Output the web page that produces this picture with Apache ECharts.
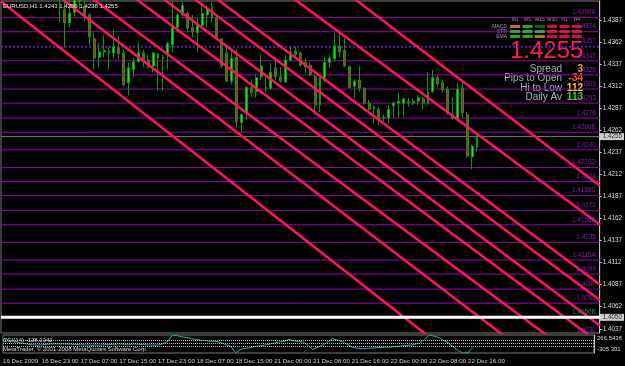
<!DOCTYPE html>
<html><head><meta charset="utf-8">
<script src="https://cdn.jsdelivr.net/npm/echarts@6/dist/echarts.min.js"></script>
<style>html,body{margin:0;padding:0;background:#000;}#c{width:625px;height:366px;}</style>
</head><body><div id="c"></div>
<script>
const symbol = 'EURUSD';
const timeframe = 'H1';
const firstBar = 12;
const opens  = [1.4415,1.4399,1.4384,1.4396,1.4420,1.4403,1.4393,1.4366,1.4345,1.4351,1.4352,1.4350,1.4356,1.4350,1.4316,1.4331,1.4340,1.4350,1.4342,1.4335,1.4349,1.4343,1.4348,1.4359,1.4379,1.4393,1.4395,1.4379,1.4373,1.4381,1.4393,1.4402,1.4390,1.4366,1.4350,1.4318,1.4345,1.4271,1.4282,1.4311,1.4306,1.4323,1.4310,1.4310,1.4333,1.4323,1.4317,1.4342,1.4352,1.4350,1.4339,1.4336,1.4323,1.4291,1.4319,1.4339,1.4343,1.4358,1.4353,1.4334,1.4312,1.4319,1.4310,1.4293,1.4287,1.4286,1.4276,1.4276,1.4290,1.4293,1.4293,1.4295,1.4293,1.4295,1.4298,1.4293,1.4306,1.4322,1.4316,1.4309,1.4280,1.4274,1.4310,1.4280,1.4232,1.4243];
const highs  = [1.4430,1.4412,1.4412,1.4418,1.4425,1.4410,1.4395,1.4373,1.4361,1.4370,1.4357,1.4377,1.4369,1.4354,1.4339,1.4345,1.4361,1.4353,1.4348,1.4351,1.4350,1.4348,1.4362,1.4408,1.4395,1.4407,1.4397,1.4393,1.4390,1.4407,1.4404,1.4407,1.4391,1.4367,1.4356,1.4353,1.4354,1.4282,1.4312,1.4319,1.4325,1.4348,1.4323,1.4339,1.4345,1.4334,1.4348,1.4357,1.4357,1.4351,1.4344,1.4339,1.4325,1.4325,1.4345,1.4348,1.4373,1.4373,1.4367,1.4336,1.4320,1.4335,1.4311,1.4297,1.4291,1.4289,1.4280,1.4291,1.4295,1.4305,1.4299,1.4299,1.4298,1.4302,1.4300,1.4328,1.4331,1.4325,1.4319,1.4312,1.4300,1.4316,1.4316,1.4283,1.4246,1.4259];
const lows   = [1.4385,1.4356,1.4379,1.4391,1.4400,1.4387,1.4359,1.4331,1.4334,1.4345,1.4331,1.4344,1.4342,1.4312,1.4302,1.4322,1.4339,1.4334,1.4333,1.4328,1.4307,1.4307,1.4331,1.4351,1.4373,1.4391,1.4373,1.4368,1.4351,1.4378,1.4379,1.4385,1.4365,1.4333,1.4317,1.4314,1.4265,1.4260,1.4274,1.4300,1.4299,1.4319,1.4305,1.4308,1.4319,1.4316,1.4316,1.4340,1.4344,1.4334,1.4327,1.4323,1.4280,1.4283,1.4317,1.4333,1.4340,1.4345,1.4334,1.4310,1.4299,1.4306,1.4291,1.4283,1.4270,1.4268,1.4272,1.4270,1.4277,1.4277,1.4277,1.4289,1.4291,1.4291,1.4286,1.4291,1.4305,1.4311,1.4305,1.4280,1.4274,1.4272,1.4277,1.4231,1.4218,1.4238];
const closes = [1.4425,1.4384,1.4395,1.4412,1.4408,1.4393,1.4368,1.4344,1.4351,1.4353,1.4350,1.4357,1.4349,1.4314,1.4333,1.4340,1.4350,1.4340,1.4334,1.4350,1.4344,1.4345,1.4361,1.4379,1.4393,1.4404,1.4378,1.4374,1.4382,1.4395,1.4401,1.4390,1.4366,1.4335,1.4318,1.4344,1.4272,1.4280,1.4311,1.4305,1.4322,1.4335,1.4311,1.4328,1.4323,1.4318,1.4342,1.4351,1.4348,1.4336,1.4334,1.4325,1.4291,1.4322,1.4339,1.4344,1.4358,1.4351,1.4335,1.4311,1.4318,1.4310,1.4293,1.4286,1.4289,1.4276,1.4277,1.4286,1.4293,1.4295,1.4298,1.4293,1.4295,1.4299,1.4293,1.4305,1.4322,1.4315,1.4308,1.4282,1.4276,1.4309,1.4282,1.4233,1.4244,1.4255];
const barCount = 123;
const tickBars = [0,8,16,24,32,40,48,56,64,72,80,88,96];
const tickLabels = ['16 Dec 2009','16 Dec 23:00','17 Dec 07:00','17 Dec 15:00','17 Dec 23:00','18 Dec 07:00','18 Dec 15:00','21 Dec 00:00','21 Dec 08:00','21 Dec 16:00','22 Dec 00:00','22 Dec 08:00','22 Dec 16:00'];
const priceTicks = [1.4037,1.4062,1.4087,1.4112,1.4137,1.4162,1.4187,1.4212,1.4237,1.4262,1.4287,1.4312,1.4337,1.4362,1.4387];
const levelPrices = [1.4390,1.4374,1.4357,1.4341,1.4325,1.4309,1.4293,1.4276,1.4260,1.4240,1.4220,1.4204,1.4188,1.4171,1.4155,1.4135,1.4115,1.4099,1.4082,1.4066,1.4050,1.4030];
const levelLabels = ['1.4390A','1.4374','1.4357','1.4341','1.4325','1.4309','1.4293','1.4276','1.4260B','1.4240','1.4220D','1.4204','1.4188C','1.4171','1.4155A','1.4135','1.4115A','1.4099','1.4082','1.4066','1.4050B','1.4030'];
const dottedLevel = 1.4357;
const stopLevel = 1.4050;
const bidPrice = 1.4255;
// trend lines: price at the first and at the last slot of the time axis
const trendStart = [1.440835,1.446398,1.448849,1.452479,1.454918,1.457391,1.459365,1.465672,1.471696];
const trendEnd   = [1.387612,1.394623,1.398503,1.402065,1.404084,1.406977,1.408735,1.415530,1.419920];
const cci = [124,110,80,40,6,-20,-45,-55,-45,-30,-19,-15,-18,-19,-25,-35,-45,-50,-55,-55,-55,-45,-35,-25,-19,-25,-30,-19,-30,-40,-50,-55,-55,-10,63,266,240,210,184,150,124,100,85,70,63,20,-40,-90,-294,-198,-160,-137,-100,-75,-55,-20,10,40,63,124,80,63,40,-60,-198,-120,-55,40,148,110,63,-20,-116,-150,-173,-160,-150,-137,-130,-120,-116,-100,-85,-70,-55,-25,6,120,266,230,184,90,6,-116,-233,-305,-300,-128.2342];
const cciTicks = [266.5436, 0, -305.301];
const cciTickText = ['266.5436','0.00','-305.301'];
const cciLevels = [100, 0, -100];
const mtfFrames = ['M1','M5','M15','M30','H1','H4'];
const mtfRows = ['MACD','STR','EMA'];
const mtfStates = [
  ['weakUp','up','strongUp','down','down','down'],
  ['up','up','up','down','down','down'],
  ['up','up','flat','down','down','down']
];
const infoLabels = ['Spread','Pips to Open','Hi to Low','Daily Av'];
const infoValues = [3,-34,112,113];
const copyright = 'MetaTrader, \u00a9 2001-2008 MetaQuotes Software Corp.';

// ---------------- rendering ----------------
const FONT = 'Liberation Sans';
const yMin = 1.403222, yMax = 1.440885;
const cats = Array.from({length: barCount}, (_, i) => String(i));
const last = closes.length - 1;
const f4 = v => v.toFixed(4);
const inRange = p => p > yMin && p < yMax;
const PURPLE = '#9a00b4';
const PINK = '#ff145f';
const stateColor = {weakUp:'#ff7a5a', up:'#33cc33', strongUp:'#0a7a1a', flat:'#c8a400', down:'#ff145f'};
const infoColors = ['#e8b418','#ff5a1e','#ffd21e','#3cd23c'];

const candleData = opens.map((o, k) => [firstBar + k, o, closes[k], lows[k], highs[k]]);

const hLine = (p, style, z) => ({
  type:'line', xAxisIndex:0, yAxisIndex:0, silent:true, symbol:'none', clip:true, z:z, animation:false,
  lineStyle:style, data:[[0, p], [barCount - 1, p]]
});
const levelSeries = levelPrices.filter(inRange).map(p => hLine(p,
  p === stopLevel ? {color:'#ffffff', width:3}
  : p === dottedLevel ? {color:'#5a1eb0', width:2, type:'dotted'}
  : {color:PURPLE, width:1}, p === stopLevel ? 5 : 1));
levelSeries.push(hLine(bidPrice, {color:'#7a7a7a', width:1}, 1));

const trendSeries = trendStart.map((p0, k) => ({
  type:'line', xAxisIndex:0, yAxisIndex:0, silent:true, symbol:'none', clip:true, z:4,
  lineStyle:{color:PINK, width:2.5}, animation:false,
  data:[[0, p0], [barCount - 1, trendEnd[k]]]
}));

const option = {
  animation:false,
  backgroundColor:'#000',
  textStyle:{fontFamily:FONT},
  grid:[
    {left:1, top:1, width:603, height:332, show:true, borderColor:'#7a7a7a', borderWidth:1, backgroundColor:'#000'},
    {left:1, top:335, width:603, height:18, show:true, borderColor:'#7a7a7a', borderWidth:1, backgroundColor:'#000'},
    {left:509, top:24, width:74, height:15, show:false}
  ],
  xAxis:[
    {type:'category', gridIndex:0, data:cats, boundaryGap:false, axisLine:{show:false}, axisTick:{show:false}, axisLabel:{show:false}, splitLine:{show:false}},
    {type:'category', gridIndex:1, data:cats, boundaryGap:false, axisLine:{show:false}, axisTick:{show:false}, splitLine:{show:false},
      axisLabel:{show:true, interval:(idx) => tickBars.includes(idx), formatter:(v, idx) => tickLabels[tickBars.indexOf(idx)] || '',
        color:'#d0d0d0', fontSize:6.2, align:'left', margin:5, hideOverlap:false}},
    {type:'category', gridIndex:2, data:mtfFrames, position:'top', axisLine:{show:false}, axisTick:{show:false},
      axisLabel:{color:'#9a9a9a', fontSize:5, margin:2, interval:0}}
  ],
  yAxis:[
    {type:'value', gridIndex:0, position:'right', min:yMin, max:yMax, splitLine:{show:false},
      axisLine:{show:true, lineStyle:{color:'#c8c8c8'}},
      axisTick:{show:true, customValues:priceTicks, length:2, lineStyle:{color:'#c8c8c8'}},
      axisLabel:{customValues:priceTicks, formatter:f4, color:'#dcdcdc', fontSize:6.3, margin:3}},
    {type:'value', gridIndex:1, position:'right', min:-305.301, max:266.5436, splitLine:{show:false},
      axisLine:{show:true, lineStyle:{color:'#c8c8c8'}}, axisTick:{show:false},
      axisLabel:{customValues:cciTicks, color:'#dcdcdc', fontSize:6, margin:3, showMinLabel:true, showMaxLabel:true,
        formatter:(v) => { const k = cciTicks.findIndex(t => Math.abs(t - v) < 1e-3); return ['{t|','{m|','{b|'][k] + cciTickText[k] + '}'; },
        rich:{t:{padding:[6,0,0,0], fontSize:6, color:'#dcdcdc'}, m:{fontSize:6, color:'#dcdcdc'}, b:{padding:[0,0,7,0], fontSize:6, color:'#dcdcdc'}}}},
    {type:'category', gridIndex:2, data:mtfRows, inverse:true, axisLine:{show:false}, axisTick:{show:false},
      axisLabel:{color:'#9a9a9a', fontSize:5, margin:2, interval:0}}
  ],
  series:[
    ...levelSeries,
    {type:'candlestick', xAxisIndex:0, yAxisIndex:0, data:candleData, encode:{x:0, y:[1,2,3,4]}, barWidth:2.4, z:3, clip:true,
      itemStyle:{color:'#30d24a', color0:'#e8103a', borderColor:'#00a000', borderColor0:'#00a000', borderWidth:1}},
    ...trendSeries,
    {type:'scatter', xAxisIndex:0, yAxisIndex:0, clip:false, silent:true, symbolSize:0, z:6,
      data: levelPrices.map((p, k) => ({value:[barCount - 1, p],
        label:{show:true, position:'left', distance:4, offset:[0,-5], formatter:levelLabels[k],
          color: p === stopLevel ? '#1fa58a' : '#b21ee0', fontSize:6.3}}))},
    {type:'scatter', xAxisIndex:0, yAxisIndex:0, clip:false, silent:true, symbolSize:0, z:7,
      data:[bidPrice, stopLevel].map(p => ({value:[barCount - 1, p],
        label:{show:true, position:'right', distance:0, formatter:f4(p), backgroundColor:'#ffffff', color:'#000', fontSize:6.3, padding:[1,2,0,3]}}))},
    {type:'line', xAxisIndex:1, yAxisIndex:1, data:cci, symbol:'none', silent:true, clip:true,
      lineStyle:{color:'#20b2aa', width:1},
      markLine:{symbol:['none','none'], silent:true, label:{show:false}, lineStyle:{color:'#bdbdbd', type:'dotted', width:1},
        data:cciLevels.map(v => ({yAxis:v}))}},
    {type:'scatter', xAxisIndex:2, yAxisIndex:2, symbol:'rect', symbolSize:[10,3], silent:true,
      data: mtfStates.flatMap((row, r) => row.map((s, c) => ({value:[c, r], itemStyle:{color:stateColor[s]}})))}
  ],
  graphic:[
    {type:'text', x:3, y:6, silent:true, z:100, style:{text:`${symbol},${timeframe} ${f4(opens[last])} ${f4(highs[last])} ${f4(lows[last])} ${f4(closes[last])}`,
      fill:'#e6e6e6', fontSize:6, fontFamily:FONT, verticalAlign:'middle'}},
    {type:'text', x:510, y:51, silent:true, style:{text:f4(closes[last]), fill:'#ff1a5a', fontSize:24, fontFamily:FONT, verticalAlign:'middle'}},
    ...infoLabels.map((t, k) => ({type:'text', x:562, y:69 + k * 9.4, silent:true,
      style:{text:t, fill:'#a9b3c1', fontSize:10, fontFamily:FONT, align:'right', verticalAlign:'middle'}})),
    ...infoValues.map((v, k) => ({type:'text', x:583, y:69 + k * 9.4, silent:true,
      style:{text:String(v), fill:infoColors[k], fontSize:10, fontWeight:'bold', fontFamily:FONT, align:'right', verticalAlign:'middle'}})),
    {type:'text', x:3, y:340, silent:true, style:{text:`CCI(14) ${cci[cci.length - 1].toFixed(4)}`, fill:'#d8d8d8', fontSize:6, fontFamily:FONT, verticalAlign:'middle'}},
    {type:'text', x:3, y:349.5, silent:true, style:{text:copyright, fill:'#d8d8d8', fontSize:6, fontFamily:FONT, verticalAlign:'middle'}}
  ]
};
const chart = echarts.init(document.getElementById('c'));
chart.setOption(option);
</script>
</body></html>
